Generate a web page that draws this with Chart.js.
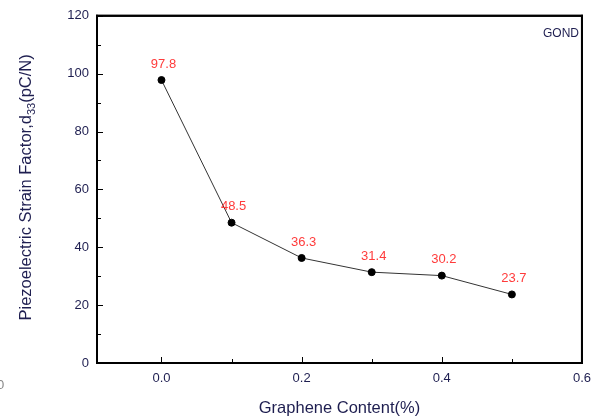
<!DOCTYPE html>
<html><head><meta charset="utf-8">
<script src="https://cdn.jsdelivr.net/npm/chart.js@4.4.0/dist/chart.umd.min.js"></script>
<style>html,body{margin:0;padding:0;background:#fff;}#wrap{width:599px;height:418px;position:relative;}</style>
</head><body><div id="wrap"><canvas id="c" width="599" height="418"></canvas></div>
<script>
const grapheneContent = [0.0, 0.1, 0.2, 0.3, 0.4, 0.5];
const d33Values = [97.8, 48.5, 36.3, 31.4, 30.2, 23.7];
const xTickValues = [0.0, 0.2, 0.4, 0.6];
const xMinorTicks = [0.1, 0.3, 0.5];
const yMinorTicks = [10, 30, 50, 70, 90, 110];
const seriesName = 'GOND';

const navy = '#1e1e50';
const framePlugin = {
  id: 'frame',
  beforeDatasetsDraw(chart) {
    const ctx = chart.ctx, a = chart.chartArea;
    ctx.save();
    ctx.strokeStyle = '#000';
    ctx.lineWidth = 2;
    ctx.beginPath();
    ctx.rect(a.left, a.top, a.right - a.left, a.bottom - a.top);
    ctx.stroke();
    ctx.restore();
  },
  afterDraw(chart) {
    const ctx = chart.ctx, a = chart.chartArea;
    ctx.save();
    ctx.fillStyle = '#000';
    ctx.fillRect(a.left - 1, a.top - 1, a.right - a.left + 2, 2);
    ctx.fillRect(a.left - 1, a.bottom - 1, a.right - a.left + 2, 2);
    ctx.fillRect(a.left - 1, a.top - 1, 2, a.bottom - a.top + 2);
    ctx.fillRect(a.right - 1, a.top - 1, 2, a.bottom - a.top + 2);
    ctx.restore();
  }
};
const decorPlugin = {
  id: 'decor',
  afterDraw(chart) {
    const ctx = chart.ctx, a = chart.chartArea;
    const xs = chart.scales.x, ys = chart.scales.y;
    ctx.save();
    ctx.fillStyle = '#000';
    xTickValues.forEach(v => { const p = Math.round(xs.getPixelForValue(v)); ctx.fillRect(p, a.bottom - 6, 1, 6); });
    xMinorTicks.forEach(v => { const p = Math.round(xs.getPixelForValue(v)); ctx.fillRect(p, a.bottom - 4, 1, 4); });
    [0, 20, 40, 60, 80, 100, 120].forEach(v => { const p = Math.round(ys.getPixelForValue(v)); ctx.fillRect(a.left, p, 6, 1); });
    yMinorTicks.forEach(v => { const p = Math.round(ys.getPixelForValue(v)); ctx.fillRect(a.left, p, 4, 1); });
    ctx.fillStyle = '#ff3b3b';
    ctx.font = '13px "Liberation Sans", Arial, sans-serif';
    ctx.textAlign = 'center';
    ctx.textBaseline = 'middle';
    const meta = chart.getDatasetMeta(0);
    meta.data.forEach((pt, i) => { ctx.fillText(d33Values[i].toFixed(1), pt.x + 2, pt.y - 16); });
    ctx.fillStyle = navy;
    ctx.font = '12px "Liberation Sans", Arial, sans-serif';
    ctx.textAlign = 'right';
    ctx.fillText(seriesName, a.right - 3, a.top + 18);
    ctx.save();
    ctx.translate(31, (a.top + a.bottom) / 2 - 2);
    ctx.rotate(-Math.PI / 2);
    ctx.fillStyle = navy;
    ctx.textBaseline = 'alphabetic';
    const f1 = '16.5px "Liberation Sans", Arial, sans-serif';
    const f2 = '11px "Liberation Sans", Arial, sans-serif';
    const p1 = 'Piezoelectric Strain Factor,d', p2 = '33', p3 = '(pC/N)';
    ctx.font = f1; const w1 = ctx.measureText(p1).width, w3 = ctx.measureText(p3).width;
    ctx.font = f2; const w2 = ctx.measureText(p2).width;
    const x0 = -(w1 + w2 + w3) / 2;
    ctx.textAlign = 'left';
    ctx.font = f1; ctx.fillText(p1, x0, 0);
    ctx.font = f2; ctx.fillText(p2, x0 + w1, 4);
    ctx.font = f1; ctx.fillText(p3, x0 + w1 + w2, 0);
    ctx.restore();
    ctx.fillStyle = '#888';
    ctx.font = '13px "Liberation Sans", Arial, sans-serif';
    ctx.textAlign = 'left';
    ctx.textBaseline = 'middle';
    ctx.fillText('0', -3, 385);
    ctx.restore();
  }
};

const borderStyle = { display: true, color: '#000', width: 2 };
new Chart(document.getElementById('c'), {
  type: 'line',
  data: {
    datasets: [{
      label: seriesName,
      data: grapheneContent.map((x, i) => ({ x: x, y: d33Values[i] })),
      borderColor: '#333',
      borderWidth: 1,
      pointBackgroundColor: '#000',
      pointBorderColor: '#000',
      pointRadius: 3.5,
      tension: 0
    }]
  },
  options: {
    responsive: false,
    animation: false,
    layout: { padding: { left: 0, right: 16, top: 14, bottom: 0 } },
    plugins: { legend: { display: false }, tooltip: { enabled: false } },
    scales: {
      x: {
        type: 'linear', min: -0.092, max: 0.6,
        afterBuildTicks: s => { s.ticks = xTickValues.map(v => ({ value: v })); },
        afterFit: s => { s.height = 55; },
        grid: { display: false, drawTicks: false },
        border: borderStyle,
        ticks: { padding: 8, color: navy, font: { size: 13, family: '"Liberation Sans", Arial' }, callback: v => v.toFixed(1), maxRotation: 0 },
        title: { display: true, text: 'Graphene Content(%)', color: navy, font: { size: 16.5, family: '"Liberation Sans", Arial' }, padding: { top: 7, bottom: 0 } }
      },
      y: {
        min: 0, max: 120,
        ticks: { stepSize: 20, padding: 8, color: navy, font: { size: 13, family: '"Liberation Sans", Arial' } },
        afterFit: s => { s.width = 97; },
        grid: { display: false, drawTicks: false },
        border: borderStyle
      }
    }
  },
  plugins: [framePlugin, decorPlugin]
});
</script></body></html>
